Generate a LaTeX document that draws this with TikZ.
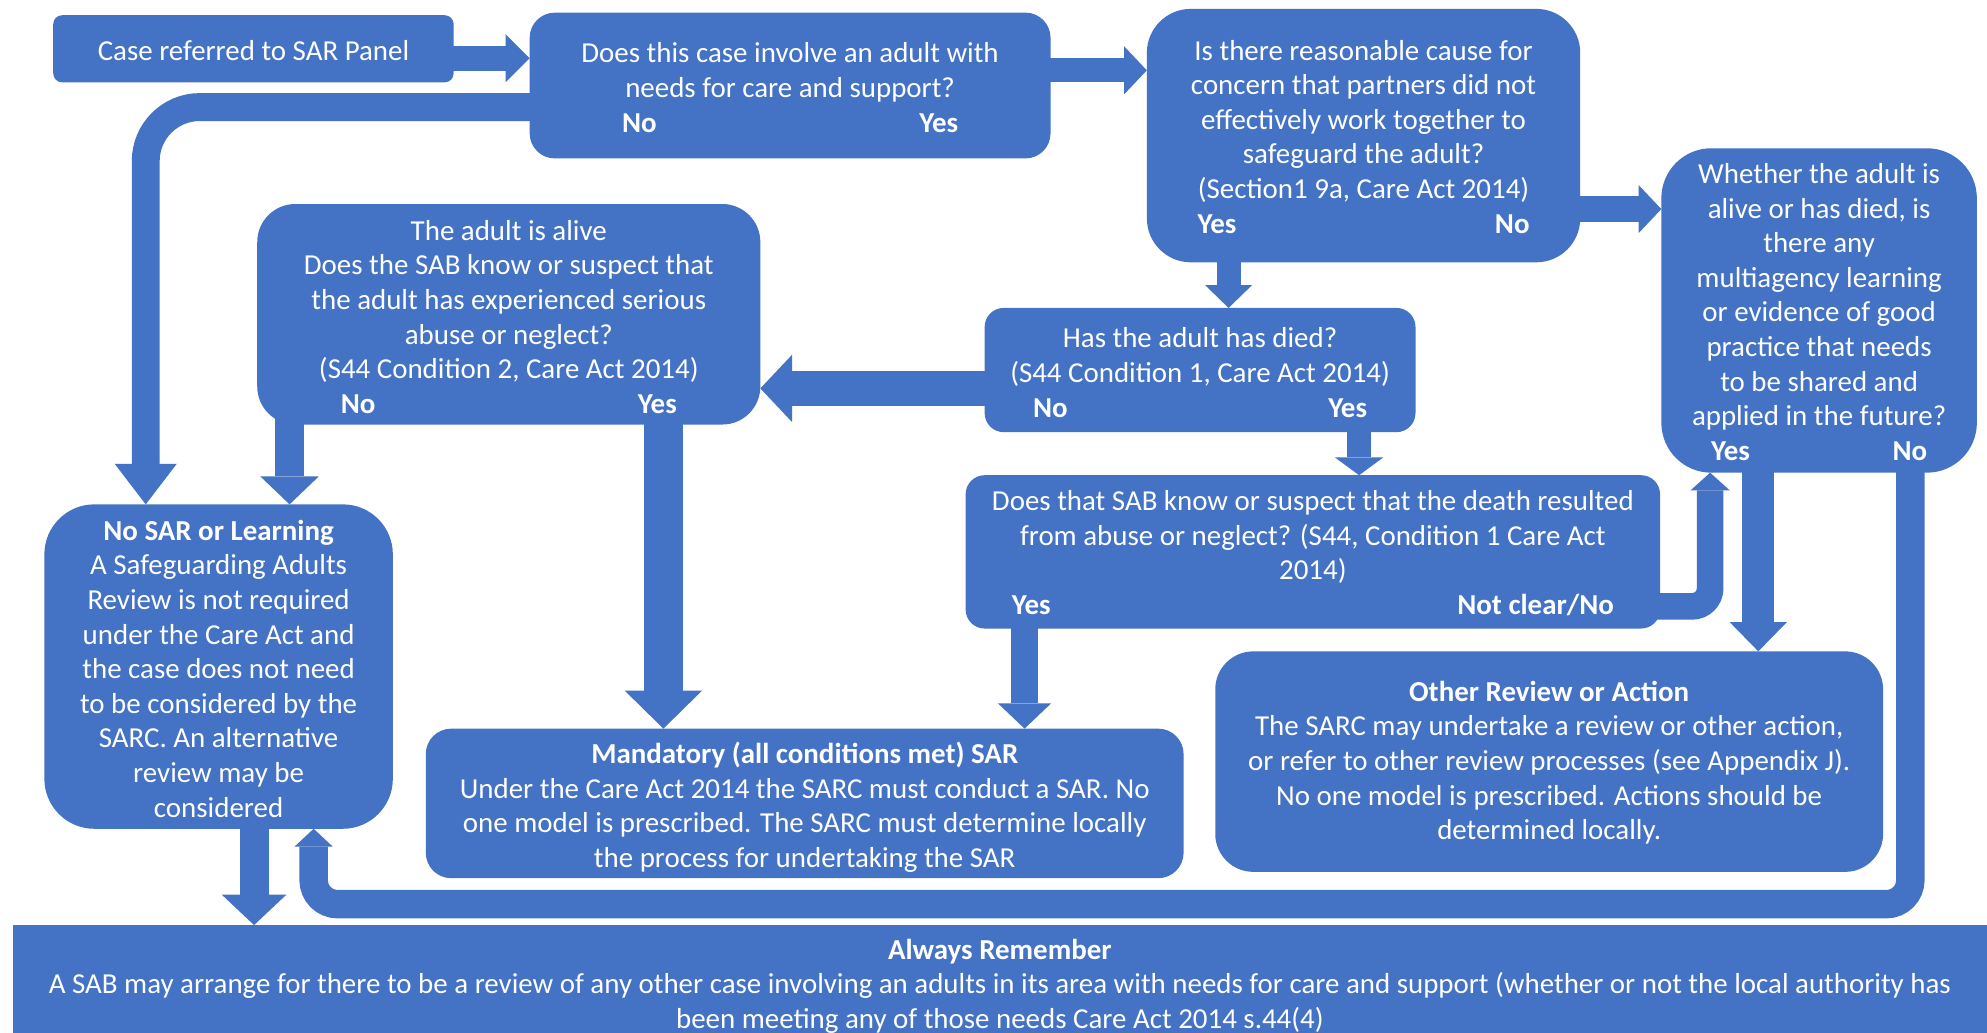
\documentclass[tikz,border=0pt]{standalone}
\usepackage{fontspec}
\setmainfont{Carlito}
\usetikzlibrary{arrows.meta,fit}
\definecolor{boxblue}{HTML}{4472C4}
\newcommand\myfs{\fontsize{14.46}{17.3}\selectfont}
\newcommand\yn[3]{\makebox[#1]{\textbf{#2}\hfill\textbf{#3}}}
\begin{document}
\begin{tikzpicture}[x=0.6336pt,y=-0.6336pt,
  box/.style={fill=boxblue,inner sep=0pt,outer sep=0pt},
  txt/.style={text=white,inner sep=0pt,outer sep=0pt,align=center,font=\myfs},
  conn/.style={draw=boxblue,line cap=butt,line join=miter,shorten <=-3pt},
]
\useasboundingbox[fill=white] (0,0) rectangle (1568,815);

% boxes
\node[box,rounded corners=4.5pt,fit={(42,12) (358,65)}] (A) {};
\node[box,rounded corners=12.5pt,fit={(418,10) (829,125)}] (B) {};
\node[box,rounded corners=22pt,fit={(905,7) (1247,207)}] (C) {};
\node[box,rounded corners=25pt,fit={(1311,117) (1560,373)}] (E) {};
\node[box,rounded corners=9.5pt,fit={(777,243) (1117,341)}] (D) {};
\node[box,rounded corners=19pt,fit={(203,161) (600,335)}] (F) {};
\node[box,rounded corners=9.5pt,fit={(762,375) (1310,496)}] (H) {};
\node[box,rounded corners=25pt,fit={(35,398) (310,654)}] (G) {};
\node[box,rounded corners=12.7pt,fit={(336,575) (934,693)}] (J) {};
\node[box,rounded corners=19pt,fit={(959,514) (1486,688)}] (I) {};
\node[box,fit={(10,730) (1568,822)}] (R) {};

% texts
\node[txt] (At) at ([yshift=-0.7pt]A.center) {Case referred to SAR Panel};
\node[txt] (Bt) at ([yshift=-1pt]B.center) {Does this case involve an adult with\\needs for care and support?\\\yn{168pt}{No}{Yes}};
\node[txt] (Ct) at ([yshift=-0.5pt]C.center) {Is there reasonable cause for\\concern that partners did not\\effectively work together to\\safeguard the adult?\\(Section1 9a, Care Act 2014)\\\yn{166pt}{Yes}{No}};
\node[txt] (Et) at ([yshift=-0.7pt]E.center) {Whether the adult is\\alive or has died, is\\there any\\multiagency learning\\or evidence of good\\practice that needs\\to be shared and\\applied in the future?\\\yn{108pt}{Yes}{No}};
\node[txt] (Dt) at ([yshift=-1.3pt]D.center) {Has the adult has died?\\(S44 Condition 1, Care Act 2014)\\\yn{167pt}{No}{Yes}};
\node[txt] (Ft) at ([yshift=-1.3pt]F.center) {The adult is alive\\Does the SAB know or suspect that\\the adult has experienced serious\\abuse or neglect?\\(S44 Condition 2, Care Act 2014)\\\yn{168pt}{No}{Yes}};
\node[txt] (Ht) at ([yshift=-0.7pt]H.center) {Does that SAB know or suspect that the death resulted\\from abuse or neglect? (S44, Condition 1 Care Act\\2014)\\\yn{301pt}{Yes}{Not clear/No}};
\node[txt] (Gt) at ([yshift=-1pt]G.center) {\textbf{No SAR or Learning}\\A Safeguarding Adults\\Review is not required\\under the Care Act and\\the case does not need\\to be considered by the\\SARC. An alternative\\review may be\\considered};
\node[txt] (Jt) at ([yshift=-1.9pt]J.center) {\textbf{Mandatory (all conditions met) SAR}\\Under the Care Act 2014 the SARC must conduct a SAR. No\\one model is prescribed. The SARC must determine locally\\the process for undertaking the SAR};
\node[txt] (It) at ([yshift=-0.5pt]I.center) {\textbf{Other Review or Action}\\The SARC may undertake a review or other action,\\or refer to other review processes (see Appendix J).\\No one model is prescribed. Actions should be\\determined locally.};
\node[txt] (Rt) at ([yshift=-1.3pt]R.center) {\textbf{Always Remember}\\A SAB may arrange for there to be a review of any other case involving an adults in its area with needs for care and support (whether or not the local authority has\\been meeting any of those needs Care Act 2014 s.44(4)};

% connectors
\draw[conn,line width=12.67pt,-{Triangle[width=24.08pt,length=12.04pt,line width=0pt]}] (A.east |- 0,46) -- (B.west |- 0,46);
\draw[conn,line width=12.04pt,-{Triangle[width=24.08pt,length=11.4pt,line width=0pt]}] (B.east |- 0,55.5) -- (C.west |- 0,55.5);
\draw[conn,line width=12.67pt,-{Triangle[width=24.08pt,length=11.4pt,line width=0pt]}] (C.east |- 0,165) -- (E.west |- 0,165);
\draw[conn,line width=12.04pt,-{Triangle[width=23.44pt,length=11.4pt,line width=0pt]}] (969.5,0 |- C.south) -- (969.5,0 |- D.north);
\draw[conn,line width=12.04pt,-{Triangle[width=24.08pt,length=8.87pt,line width=0pt]}] (1072.5,0 |- D.south) -- (1072.5,0 |- H.north);
\draw[conn,line width=17.11pt,-{Triangle[width=33.58pt,length=15.84pt,line width=0pt]}] (D.west |- 0,306.5) -- (F.east |- 0,306.5);
\draw[conn,line width=13.94pt,rounded corners=27pt,-{Triangle[width=31.05pt,length=20.28pt,line width=0pt]}] (B.west |- 0,84.5) -| (115,0 |- G.north);
\draw[conn,line width=14.57pt,-{Triangle[width=29.15pt,length=13.94pt,line width=0pt]}] (228.5,0 |- F.south) -- (228.5,0 |- G.north);
\draw[conn,line width=19.64pt,-{Triangle[width=38.65pt,length=19pt,line width=0pt]}] (523.5,0 |- F.south) -- (523.5,0 |- J.north);
\draw[conn,line width=13.31pt,-{Triangle[width=26.61pt,length=12.67pt,line width=0pt]}] (808.5,0 |- H.south) -- (808.5,0 |- J.north);
\draw[conn,line width=13.31pt,rounded corners=9pt,-{Triangle[width=19.64pt,length=8.87pt,line width=0pt]}] (H.east |- 0,478.5) -| (1349.5,0 |- E.south);
\draw[conn,line width=15.84pt,-{Triangle[width=28.51pt,length=14.57pt,line width=0pt]}] (1387.5,0 |- E.south) -- (1387.5,0 |- I.north);
\draw[conn,line width=14.2pt,rounded corners=12pt,-{Triangle[width=19pt,length=8.87pt,line width=0pt]}] (1507.5,0 |- E.south) -- (1507.5,713.5) -- (247.5,713.5) -- (247.5,0 |- G.south);
\draw[conn,line width=14.57pt,-{Triangle[width=32.31pt,length=15.21pt,line width=0pt]}] (200.5,0 |- G.south) -- (200.5,0 |- R.north);
\end{tikzpicture}
\end{document}
